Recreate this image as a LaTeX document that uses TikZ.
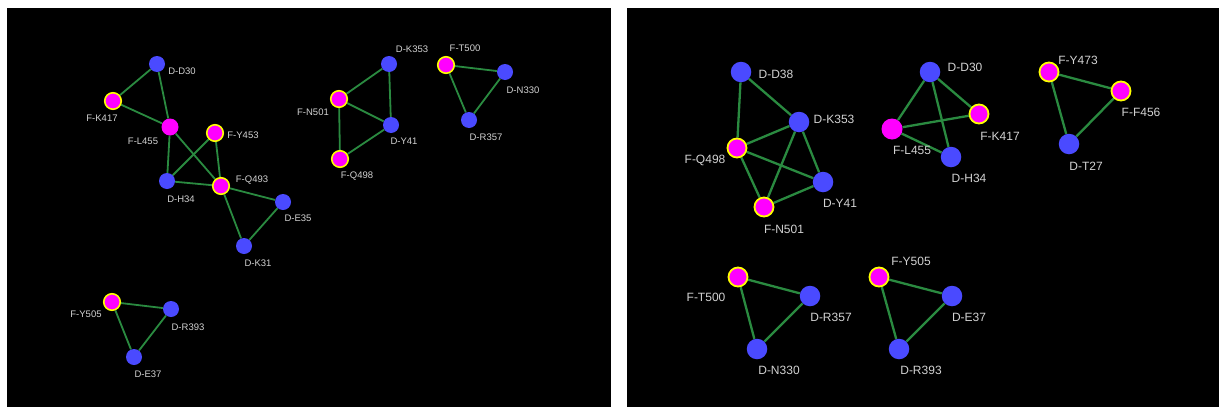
\documentclass[tikz,border=0pt]{standalone}
\usepackage{fontspec}
\setmainfont{Liberation Sans}
\usetikzlibrary{backgrounds}
\begin{document}
\begin{tikzpicture}[x=1pt,y=-1pt,
  dnodeS/.style={circle,fill=dblue,inner sep=0pt,minimum size=16pt},
  fnodeS/.style={circle,fill=fmag,draw=fyel,line width=1.6pt,inner sep=0pt,minimum size=16.5pt},
  pnodeS/.style={circle,fill=fmag,inner sep=0pt,minimum size=17pt},
  dnodeB/.style={circle,fill=dblue,inner sep=0pt,minimum size=20.5pt},
  fnodeB/.style={circle,fill=fmag,draw=fyel,line width=1.8pt,inner sep=0pt,minimum size=19pt},
  pnodeB/.style={circle,fill=fmag,inner sep=0pt,minimum size=21pt},
  lblS/.style={text=lblgray,font=\fontsize{9.5}{11}\selectfont,inner sep=0pt},
  lblB/.style={text=lblgray,font=\fontsize{12}{14}\selectfont,inner sep=0pt},
  edgeS/.style={draw=egreen,line width=1.8pt},
  edgeB/.style={draw=egreen,line width=2.3pt}]
\definecolor{dblue}{HTML}{4A4AFF}
\definecolor{fmag}{HTML}{FF00FF}
\definecolor{fyel}{HTML}{FFFF00}
\definecolor{egreen}{HTML}{2A8A40}
\definecolor{lblgray}{HTML}{D2D2D2}
\useasboundingbox (0,0) rectangle (1220,407);

% ---------- left panel nodes ----------
\node[dnodeS] (LDD30) at (157,64) {};
\node[fnodeS] (LFK417) at (113,101) {};
\node[pnodeS] (LFL455) at (170,127) {};
\node[fnodeS] (LFY453) at (215,133) {};
\node[dnodeS] (LDH34) at (167,181) {};
\node[fnodeS] (LFQ493) at (221,186) {};
\node[dnodeS] (LDE35) at (283,202) {};
\node[dnodeS] (LDK31) at (244,246) {};
\node[dnodeS] (LDK353) at (389,64) {};
\node[fnodeS] (LFN501) at (339,99) {};
\node[dnodeS] (LDY41) at (391,125) {};
\node[fnodeS] (LFQ498) at (340,159) {};
\node[fnodeS] (LFT500) at (446,65) {};
\node[dnodeS] (LDN330) at (505,72) {};
\node[dnodeS] (LDR357) at (469,120) {};
\node[fnodeS] (LFY505) at (112,302) {};
\node[dnodeS] (LDR393) at (171,309) {};
\node[dnodeS] (LDE37) at (134,357) {};

% ---------- right panel nodes ----------
\node[dnodeB] (RDD38) at (741,72) {};
\node[dnodeB] (RDK353) at (799,122) {};
\node[fnodeB] (RFQ498) at (737,148) {};
\node[dnodeB] (RDY41) at (823,182) {};
\node[fnodeB] (RFN501) at (764,207) {};
\node[dnodeB] (RDD30) at (930,72) {};
\node[fnodeB] (RFK417) at (979,114) {};
\node[pnodeB] (RFL455) at (892,129) {};
\node[dnodeB] (RDH34) at (951,157) {};
\node[fnodeB] (RFY473) at (1049,72) {};
\node[fnodeB] (RFF456) at (1121,91) {};
\node[dnodeB] (RDT27) at (1069,144) {};
\node[fnodeB] (RFT500) at (738,277) {};
\node[dnodeB] (RDR357) at (810,296) {};
\node[dnodeB] (RDN330) at (757,349) {};
\node[fnodeB] (RFY505) at (879,277) {};
\node[dnodeB] (RDE37) at (952,296) {};
\node[dnodeB] (RDR393) at (899,349) {};

\begin{pgfonlayer}{background}
\fill[white] (0,0) rectangle (1220,407);
\fill[black] (7,8) rectangle (611,407);
\fill[black] (627,8) rectangle (1219,407);

\path[edgeS] (LDD30) -- (LFK417);
\path[edgeS] (LDD30) -- (LFL455);
\path[edgeS] (LFK417) -- (LFL455);
\path[edgeS] (LFL455) -- (LDH34);
\path[edgeS] (LFL455) -- (LFQ493);
\path[edgeS] (LFY453) -- (LDH34);
\path[edgeS] (LFY453) -- (LFQ493);
\path[edgeS] (LDH34) -- (LFQ493);
\path[edgeS] (LFQ493) -- (LDE35);
\path[edgeS] (LFQ493) -- (LDK31);
\path[edgeS] (LDE35) -- (LDK31);
\path[edgeS] (LDK353) -- (LFN501);
\path[edgeS] (LDK353) -- (LDY41);
\path[edgeS] (LFN501) -- (LDY41);
\path[edgeS] (LFN501) -- (LFQ498);
\path[edgeS] (LFQ498) -- (LDY41);
\path[edgeS] (LFT500) -- (LDN330);
\path[edgeS] (LFT500) -- (LDR357);
\path[edgeS] (LDN330) -- (LDR357);
\path[edgeS] (LFY505) -- (LDR393);
\path[edgeS] (LFY505) -- (LDE37);
\path[edgeS] (LDR393) -- (LDE37);

\path[edgeB] (RDD38) -- (RFQ498);
\path[edgeB] (RDD38) -- (RDK353);
\path[edgeB] (RDK353) -- (RFQ498);
\path[edgeB] (RDK353) -- (RFN501);
\path[edgeB] (RDK353) -- (RDY41);
\path[edgeB] (RFQ498) -- (RDY41);
\path[edgeB] (RFQ498) -- (RFN501);
\path[edgeB] (RFN501) -- (RDY41);
\path[edgeB] (RDD30) -- (RFL455);
\path[edgeB] (RDD30) -- (RFK417);
\path[edgeB] (RDD30) -- (RDH34);
\path[edgeB] (RFL455) -- (RFK417);
\path[edgeB] (RFL455) -- (RDH34);
\path[edgeB] (RFY473) -- (RFF456);
\path[edgeB] (RFY473) -- (RDT27);
\path[edgeB] (RFF456) -- (RDT27);
\path[edgeB] (RFT500) -- (RDR357);
\path[edgeB] (RFT500) -- (RDN330);
\path[edgeB] (RDR357) -- (RDN330);
\path[edgeB] (RFY505) -- (RDE37);
\path[edgeB] (RFY505) -- (RDR393);
\path[edgeB] (RDE37) -- (RDR393);
\end{pgfonlayer}

% ---------- left labels ----------
\node[lblS] (tLDD30) at (182,71) {D-D30};
\node[lblS] (tLFK417) at (102,118) {F-K417};
\node[lblS] (tLFL455) at (143,141) {F-L455};
\node[lblS] (tLFY453) at (243,135) {F-Y453};
\node[lblS] (tLDH34) at (181,199) {D-H34};
\node[lblS] (tLFQ493) at (252,180) {F-Q493};
\node[lblS] (tLDE35) at (298,218) {D-E35};
\node[lblS] (tLDK31) at (258,263) {D-K31};
\node[lblS] (tLDK353) at (412,49) {D-K353};
\node[lblS] (tLFN501) at (313,112) {F-N501};
\node[lblS] (tLDY41) at (404,141) {D-Y41};
\node[lblS] (tLFQ498) at (357,176) {F-Q498};
\node[lblS] (tLFT500) at (465,48) {F-T500};
\node[lblS] (tLDN330) at (523,90) {D-N330};
\node[lblS] (tLDR357) at (486,137) {D-R357};
\node[lblS] (tLFY505) at (86,314) {F-Y505};
\node[lblS] (tLDR393) at (188,327) {D-R393};
\node[lblS] (tLDE37) at (148,374) {D-E37};

% ---------- right labels ----------
\node[lblB] (tRDD38) at (776,74) {D-D38};
\node[lblB] (tRDK353) at (834,119) {D-K353};
\node[lblB] (tRFQ498) at (705,160) {F-Q498};
\node[lblB] (tRDY41) at (840,203) {D-Y41};
\node[lblB] (tRFN501) at (784,229) {F-N501};
\node[lblB] (tRDD30) at (965,67) {D-D30};
\node[lblB] (tRFK417) at (1000,136) {F-K417};
\node[lblB] (tRFL455) at (912,150) {F-L455};
\node[lblB] (tRDH34) at (969,178) {D-H34};
\node[lblB] (tRFY473) at (1078,60) {F-Y473};
\node[lblB] (tRFF456) at (1141,112) {F-F456};
\node[lblB] (tRDT27) at (1086,166) {D-T27};
\node[lblB] (tRFT500) at (706,297) {F-T500};
\node[lblB] (tRDR357) at (831,317) {D-R357};
\node[lblB] (tRDN330) at (779,370) {D-N330};
\node[lblB] (tRFY505) at (911,261) {F-Y505};
\node[lblB] (tRDE37) at (969,317) {D-E37};
\node[lblB] (tRDR393) at (921,370) {D-R393};
\end{tikzpicture}
\end{document}
